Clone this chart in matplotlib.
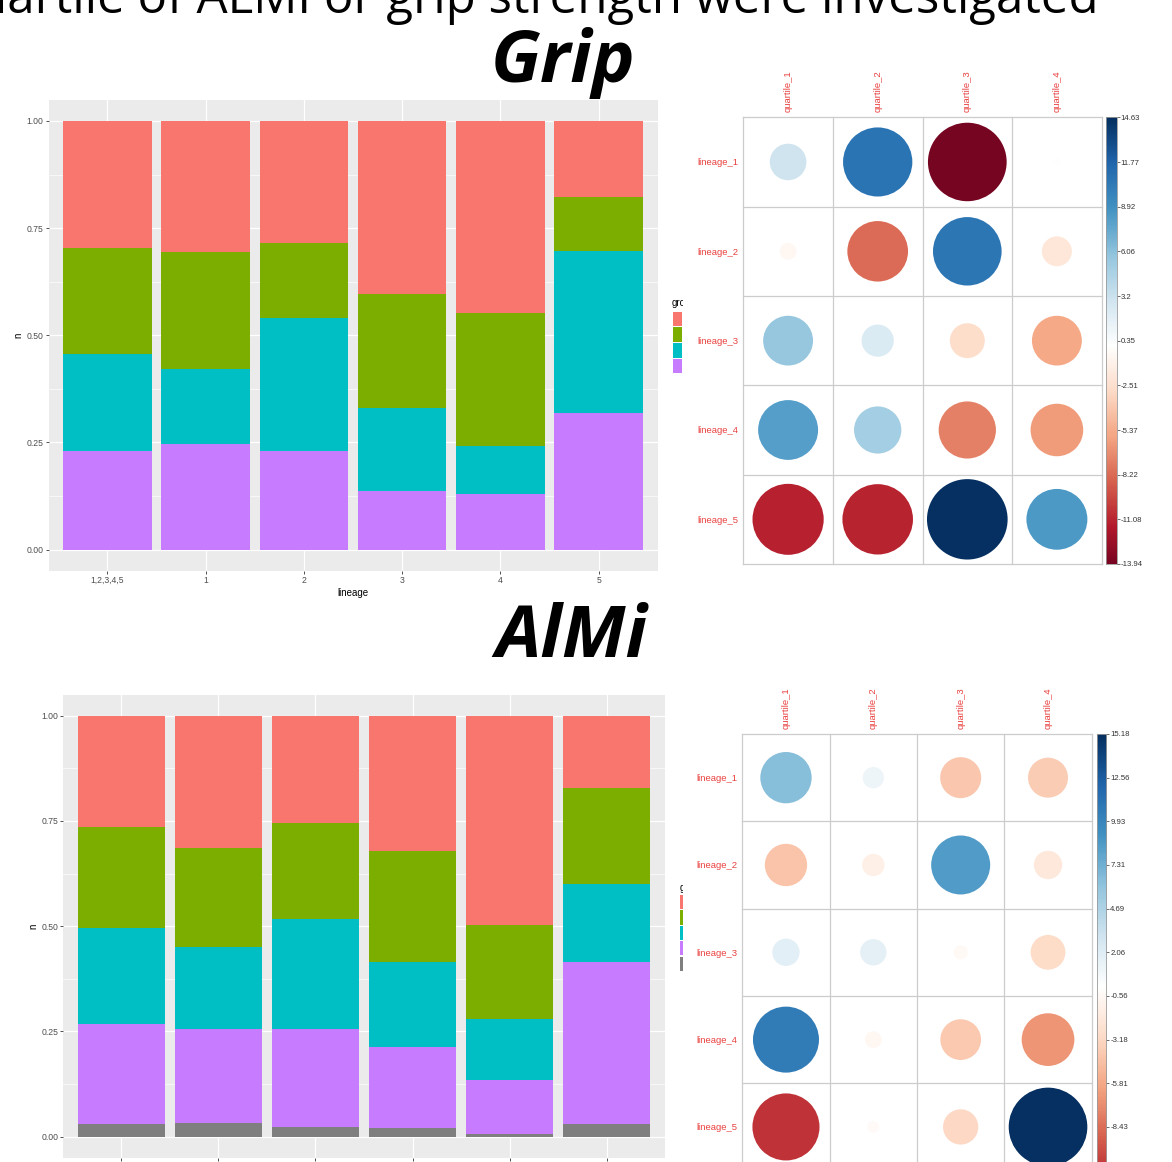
import numpy as np
import matplotlib
matplotlib.use("Agg")
import matplotlib.pyplot as plt
from matplotlib.colors import LinearSegmentedColormap, Normalize
from matplotlib.patches import Circle, Rectangle

# ---------------- data ----------------
lineage_labels = ["1,2,3,4,5", "1", "2", "3", "4", "5"]

# Grip strength quartile proportions per lineage (quartile 1 is stacked on top)
grip_q1 = [0.297, 0.305, 0.285, 0.404, 0.449, 0.178]
grip_q2 = [0.246, 0.274, 0.175, 0.265, 0.310, 0.126]
grip_q3 = [0.227, 0.174, 0.310, 0.194, 0.111, 0.378]
grip_q4 = [0.230, 0.247, 0.230, 0.137, 0.130, 0.318]

# ALMI quartile proportions per lineage (NA at the bottom)
almi_q1 = [0.264, 0.314, 0.255, 0.321, 0.497, 0.172]
almi_q2 = [0.240, 0.236, 0.227, 0.263, 0.224, 0.228]
almi_q3 = [0.229, 0.193, 0.261, 0.204, 0.144, 0.186]
almi_q4 = [0.237, 0.225, 0.235, 0.191, 0.129, 0.384]
almi_na = [0.030, 0.032, 0.022, 0.021, 0.006, 0.030]

row_names = ["lineage_1", "lineage_2", "lineage_3", "lineage_4", "lineage_5"]
col_names = ["quartile_1", "quartile_2", "quartile_3", "quartile_4"]

# chi-square residuals, lineage x quartile
grip_resid = [
    [3.02, 10.80, -13.94, 0.14],
    [-0.63, -8.28, 10.60, -2.02],
    [5.60, 2.34, -2.75, -5.60],
    [8.09, 5.03, -7.38, -6.24],
    [-11.40, -11.20, 14.63, 8.36],
]
almi_resid = [
    [6.47, 1.12, -4.13, -3.93],
    [-4.40, -1.22, 8.55, -1.97],
    [1.83, 1.70, -0.48, -2.96],
    [10.70, -0.68, -4.07, -6.82],
    [-11.05, -0.35, -3.06, 15.18],
]

grip_cbar_labels = ["14.63", "11.77", "8.92", "6.06", "3.2", "0.35",
                    "-2.51", "-5.37", "-8.22", "-11.08", "-13.94"]
almi_cbar_labels = ["15.18", "12.56", "9.93", "7.31", "4.69", "2.06",
                    "-0.56", "-3.18", "-5.81", "-8.43"]

# ---------------- styling ----------------
Q_COLORS = ["#F8766D", "#7CAE00", "#00BFC4", "#C77CFF"]
NA_COLOR = "#7F7F7F"
RDBU = LinearSegmentedColormap.from_list(
    "rdbu_corr",
    ["#67001F", "#B2182B", "#D6604D", "#F4A582", "#FDDBC7", "#FFFFFF",
     "#D1E5F0", "#92C5DE", "#4393C3", "#2166AC", "#053061"], N=200)
LABEL_RED = "#E8413F"
SANS = ["Liberation Sans", "DejaVu Sans"]

W, H = 1172, 1162
fig = plt.figure(figsize=(W / 100, H / 100), dpi=100)
fig.patch.set_facecolor("white")


def box(x0, y0, x1, y1):
    return [x0 / W, 1 - y1 / H, (x1 - x0) / W, (y1 - y0) / H]


def stacked_panel(rect, layers, colors, show_xlabels=True):
    ax = fig.add_axes(rect)
    ax.set_facecolor("#EBEBEB")
    x = np.arange(1, len(lineage_labels) + 1)
    bottom = np.zeros(len(lineage_labels))
    for vals, col in zip(layers, colors):
        ax.bar(x, vals, bottom=bottom, width=0.9, color=col, linewidth=0, zorder=2)
        bottom = bottom + np.asarray(vals)
    ax.set_xlim(0.4, len(lineage_labels) + 0.6)
    ax.set_ylim(-0.05, 1.05)
    ax.set_xticks(x)
    if show_xlabels:
        ax.set_xticklabels(lineage_labels, family=SANS)
        ax.set_xlabel("lineage", fontsize=7, labelpad=2, family=SANS)
    else:
        ax.set_xticklabels([])
    ax.set_yticks([0, 0.25, 0.5, 0.75, 1.0])
    ax.set_yticklabels(["0.00", "0.25", "0.50", "0.75", "1.00"], family=SANS)
    ax.set_yticks([0.125, 0.375, 0.625, 0.875], minor=True)
    ax.set_axisbelow(True)
    ax.grid(which="major", color="white", lw=0.9)
    ax.grid(which="minor", axis="y", color="white", lw=0.45)
    for s in ax.spines.values():
        s.set_visible(False)
    ax.tick_params(length=2, width=0.6, color="#333333", labelsize=6.2,
                   labelcolor="#4D4D4D", pad=1.5)
    ax.tick_params(which="minor", length=0)
    ax.set_ylabel("n", fontsize=7, labelpad=2, family=SANS)
    return ax


def circle_panel(rect, cbar_rect, mat, cbar_labels):
    arr = np.asarray(mat, dtype=float)
    vmin, vmax = arr.min(), arr.max()
    scale = max(abs(vmin), abs(vmax))
    # colours are centred on zero, symmetric about the largest magnitude
    norm = Normalize(-scale, scale)
    nrow, ncol = arr.shape
    ax = fig.add_axes(rect, zorder=5)
    ax.set_facecolor("white")
    ax.set_xlim(0, ncol)
    ax.set_ylim(nrow, 0)
    for i in range(nrow):
        for j in range(ncol):
            v = arr[i, j]
            r = 0.45 * np.sqrt(abs(v) / scale)
            ax.add_patch(Circle((j + 0.5, i + 0.5), r, facecolor=RDBU(norm(v)),
                                edgecolor="none", zorder=3))
    for k in range(nrow + 1):
        ax.axhline(k, color="#CCCCCC", lw=0.9, clip_on=False, zorder=2)
    for k in range(ncol + 1):
        ax.axvline(k, color="#CCCCCC", lw=0.9, clip_on=False, zorder=2)
    for s in ax.spines.values():
        s.set_visible(False)
    ax.xaxis.tick_top()
    ax.set_xticks(np.arange(ncol) + 0.5)
    ax.set_xticklabels(col_names, rotation=90, family=SANS)
    ax.set_yticks(np.arange(nrow) + 0.5)
    ax.set_yticklabels(row_names, family=SANS)
    ax.tick_params(length=0, labelsize=6.8, labelcolor=LABEL_RED, pad=3.5)

    cax = fig.add_axes(cbar_rect, zorder=5)
    grad = np.linspace(vmin, vmax, 400).reshape(-1, 1)
    cax.imshow(grad, aspect="auto", cmap=RDBU, norm=norm, origin="lower",
               extent=[0, 1, vmin, vmax])
    cax.set_xticks([])
    cax.yaxis.tick_right()
    cax.set_yticks([float(t) for t in cbar_labels])
    cax.set_yticklabels(cbar_labels, family=SANS)
    cax.set_ylim(vmin, vmax)
    cax.tick_params(length=2, width=0.6, color="#555555", labelsize=5.6,
                    labelcolor="#333333", pad=1)
    for s in cax.spines.values():
        s.set_color("#9A9A9A")
        s.set_linewidth(0.6)


# heading text
fig.text(1099 / W, 1 - 13 / H, "quartile of ALMI or grip strength were investigated",
         ha="right", va="baseline", fontsize=35.5, family=["Open Sans", "DejaVu Sans"])
fig.text(563 / W, 1 - 82 / H, "Grip", ha="center", va="baseline", fontsize=52,
         fontweight="bold", fontstyle="italic", family=["Open Sans", "DejaVu Sans"])
fig.text(571 / W, 1 - 657 / H, "AlMi", ha="center", va="baseline", fontsize=52,
         fontweight="bold", fontstyle="italic", family=["Open Sans", "DejaVu Sans"])

# stacked proportion bars
stacked_panel(box(48.5, 99.5, 657.5, 571.0),
              [grip_q4, grip_q3, grip_q2, grip_q1], Q_COLORS[::-1])
stacked_panel(box(63.0, 694.6, 665.0, 1157.8),
              [almi_na, almi_q4, almi_q3, almi_q2, almi_q1],
              [NA_COLOR] + Q_COLORS[::-1], show_xlabels=False)

# legends (mostly hidden behind the residual plots)
fig.text(672 / W, 1 - 306 / H, "group", fontsize=7, family=SANS, zorder=3)
for k, col in enumerate(Q_COLORS):
    y0 = 311.5 + k * 15.75
    fig.add_artist(Rectangle((673.3 / W, 1 - (y0 + 14.5) / H), 9 / W, 14.5 / H,
                             transform=fig.transFigure, facecolor=col,
                             edgecolor="none", zorder=3))
fig.text(680 / W, 1 - 891 / H, "group", fontsize=7, family=SANS, zorder=3)
for k, col in enumerate(Q_COLORS + [NA_COLOR]):
    y0 = 895 + k * 15.4
    fig.add_artist(Rectangle((680.3 / W, 1 - (y0 + 14.2) / H), 6 / W, 14.2 / H,
                             transform=fig.transFigure, facecolor=col,
                             edgecolor="none", zorder=3))
fig.add_artist(Rectangle((683 / W, 0), (W - 683) / W, 1 - 30 / H,
                         transform=fig.transFigure, facecolor="white",
                         edgecolor="none", zorder=4))

# residual circle plots
circle_panel(box(743.3, 117.3, 1101.7, 564.0), box(1106.0, 117.3, 1116.5, 564.0),
             grip_resid, grip_cbar_labels)
circle_panel(box(742.3, 734.0, 1091.7, 1170.6), box(1096.5, 734.0, 1106.0, 1170.6),
             almi_resid, almi_cbar_labels)

fig.savefig("out.png", dpi=100, facecolor="white")
